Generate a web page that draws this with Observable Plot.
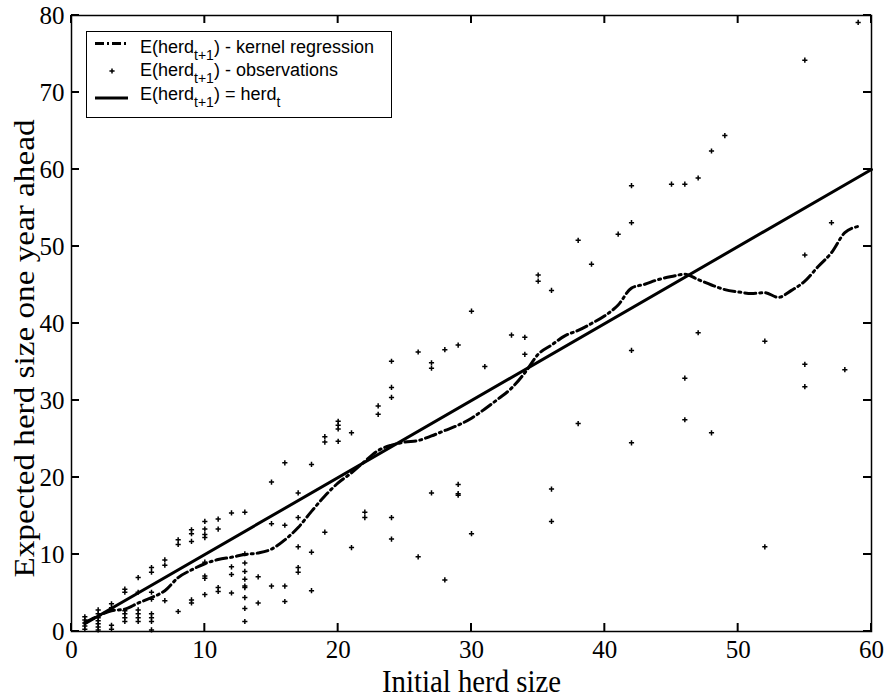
<!DOCTYPE html>
<html><head><meta charset="utf-8">
<script src="https://cdn.jsdelivr.net/npm/d3@7"></script>
<script src="https://cdn.jsdelivr.net/npm/@observablehq/plot@0.6"></script>
<style>
body{margin:0;background:#fff;}
#wrap{position:relative;width:889px;height:698px;}
#legend{position:absolute;left:86px;top:31px;}
#legend text{font-family:"Liberation Sans",Arial,sans-serif;font-size:18px;fill:#000;}
</style></head><body>
<div id="wrap"></div>
<script>
const xTicks = [0, 10, 20, 30, 40, 50, 60];
const yTicks = [0, 10, 20, 30, 40, 50, 60, 70, 80];

// observations: initial herd size (x) and herd size one year later (y)
const obsX = [
  1,1,1,1,1,
  2,2,2,2,2,2,2,
  3,3,3,3,
  4,4,4,4,4,4,
  5,5,5,5,5,5,
  6,6,6,6,6,6,6,6,
  7,7,7,
  8,8,8,
  9,9,9,9,9,
  10,10,10,10,10,10,10,10,
  11,11,11,11,
  12,12,12,12,
  13,13,13,13,13,13,13,13,13,13,
  14,14,
  15,15,15,
  16,16,16,16,
  17,17,17,17,17,
  18,18,18,
  19,19,19,
  20,20,20,20,
  21,21,
  22,22,
  23,23,
  24,24,24,24,24,
  26,26,
  27,27,27,
  28,28,
  29,29,29,29,
  30,30,
  31,
  33,
  34,34,
  35,35,
  36,36,36,
  38,38,
  39,
  41,
  42,42,42,42,
  45,
  46,46,46,
  47,47,
  48,48,
  49,
  52,52,
  55,55,55,55,
  57,
  58,
  59
];
const obsY = [
  0.3,0.7,1.1,1.5,1.9,
  0.2,0.6,1.0,1.4,1.8,2.3,2.8,
  0.3,0.8,3.1,3.6,
  1.3,1.8,2.3,2.7,5.1,5.5,
  1.3,1.8,2.3,2.8,5.1,7.0,
  0.2,1.3,1.8,2.3,4.2,5.1,7.7,8.3,
  4.0,8.6,9.3,
  2.6,11.3,11.9,
  3.7,4.1,11.7,12.7,13.2,
  4.8,6.9,7.2,9.0,12.2,12.6,13.3,14.3,
  5.2,5.7,13.3,14.6,
  5.0,7.4,8.4,15.4,
  1.3,3.0,4.4,5.7,5.9,6.8,7.8,8.9,10.1,15.5,
  3.7,7.1,
  5.9,14.0,19.4,
  3.9,5.9,13.8,21.9,
  7.7,8.3,11.0,14.8,18.0,
  5.3,10.3,21.7,
  12.9,24.6,25.3,
  24.7,26.3,26.8,27.3,
  10.9,25.8,
  14.8,15.5,
  28.2,29.3,
  12.0,14.8,30.4,31.7,35.1,
  9.7,36.3,
  18.0,34.2,34.9,
  6.7,36.6,
  17.7,17.9,19.1,37.2,
  12.7,41.6,
  34.4,
  38.5,
  36.0,38.2,
  45.5,46.3,
  14.3,18.5,44.3,
  27.0,50.8,
  47.7,
  51.6,
  24.5,36.5,53.1,57.9,
  58.1,
  27.5,32.9,58.1,
  38.8,58.9,
  25.8,62.4,
  64.4,
  11.0,37.7,
  31.8,34.7,48.9,74.2,
  53.1,
  34.0,
  79.1
];

// kernel regression estimate
const kernelX = [1,2,3,4,5,6,7,8,9,10,11,12,13,14,15,16,17,18,19,20,21,22,23,24,25,26,27,28,29,30,31,32,33,34,35,36,37,38,39,40,41,42,43,44,45,46,47,48,49,50,51,52,53,54,55,56,57,58,59];
const kernelY = [1.2,2.0,2.7,2.9,3.7,4.4,5.3,7.0,8.0,8.8,9.35,9.65,10.0,10.2,10.7,11.9,13.5,15.6,17.6,19.3,20.6,22.1,23.5,24.2,24.6,24.8,25.4,26.1,26.8,27.7,28.9,30.2,31.6,33.6,36.0,37.2,38.4,39.1,40.0,41.0,42.4,44.6,45.1,45.7,46.1,46.4,45.7,45.0,44.4,44.1,43.9,44.0,43.4,44.3,45.5,47.4,49.2,51.8,52.6];

// 45-degree line E(herd_t+1) = herd_t
const diagX = [1, 60];
const diagY = [1, 60];

const xTitle = "Initial herd size";
const yTitle = "Expected herd size one year ahead";

const obs = obsX.map((x, i) => ({x, y: obsY[i]}));
const kernel = kernelX.map((x, i) => ({x, y: kernelY[i]}));
const diag = diagX.map((x, i) => ({x, y: diagY[i]}));

const W = 889, H = 698, mL = 71, mR = 18, mT = 15, mB = 67, tick = 8;

const chart = Plot.plot({
  width: W,
  height: H,
  marginLeft: mL,
  marginRight: mR,
  marginTop: mT,
  marginBottom: mB,
  x: {domain: [0, 60]},
  y: {domain: [0, 80]},
  style: {fontFamily: "'Liberation Serif', 'Times New Roman', serif", fontSize: "25px", color: "black", background: "white"},
  marks: [
    Plot.axisX({ticks: xTicks, anchor: "bottom", tickSize: 0, tickPadding: 9, label: null}),
    Plot.axisY({ticks: yTicks, anchor: "left", tickSize: 0, tickPadding: 7, label: null}),
    Plot.frame({stroke: "black", strokeWidth: 1.5}),
    Plot.line(diag, {x: "x", y: "y", stroke: "black", strokeWidth: 3}),
    Plot.line(kernel, {x: "x", y: "y", stroke: "black", strokeWidth: 3, strokeDasharray: "11,4,2,4", curve: "monotone-x"}),
    Plot.dot(obs, {x: "x", y: "y", symbol: "plus", r: 1.8, stroke: "black", strokeWidth: 1.5}),
    Plot.text([xTitle], {text: d => d, frameAnchor: "bottom", dy: 60, fontSize: 32, textAnchor: "middle"}),
    Plot.text([yTitle], {text: d => d, frameAnchor: "left", dx: -47, dy: 25, rotate: -90, fontSize: 29, textAnchor: "middle"})
  ]
});
// the original figure is stretched vertically: compress titles along their length accordingly
d3.select(chart).selectAll("text").each(function() {
  if (this.textContent === xTitle) d3.select(this).attr("textLength", 179).attr("lengthAdjust", "spacingAndGlyphs");
  if (this.textContent === yTitle) d3.select(this).attr("textLength", 458).attr("lengthAdjust", "spacingAndGlyphs");
});

// inward ticks on all four sides (MATLAB style), placed with Plot's own scales
const sx = chart.scale("x"), sy = chart.scale("y");
const x0 = mL, x1 = W - mR, y0 = mT, y1 = H - mB;
const tg = d3.select(chart).append("g").attr("stroke", "black").attr("stroke-width", 2);
xTicks.forEach(v => {
  const px = sx.apply(v);
  tg.append("line").attr("x1", px).attr("x2", px).attr("y1", y1).attr("y2", y1 - tick);
  tg.append("line").attr("x1", px).attr("x2", px).attr("y1", y0).attr("y2", y0 + tick);
});
yTicks.forEach(v => {
  const py = sy.apply(v);
  tg.append("line").attr("y1", py).attr("y2", py).attr("x1", x0).attr("x2", x0 + tick);
  tg.append("line").attr("y1", py).attr("y2", py).attr("x1", x1).attr("x2", x1 - tick);
});
document.getElementById("wrap").appendChild(chart);

// legend (drawn inside the axes box, as in the original)
const legendItems = [
  {kind: "dashdot", main: "E(herd", sub: "t+1", rest: ") - kernel regression", sub2: ""},
  {kind: "dot", main: "E(herd", sub: "t+1", rest: ") - observations", sub2: ""},
  {kind: "solid", main: "E(herd", sub: "t+1", rest: ") = herd", sub2: "t"}
];
const lg = d3.select("#wrap").append("svg").attr("id", "legend").attr("width", 306).attr("height", 87);
lg.append("rect").attr("x", 0.5).attr("y", 0.5).attr("width", 305).attr("height", 86).attr("fill", "white").attr("stroke", "black");
const baselines = [22, 45, 69];
const markY = [12.5, 40, 67];
legendItems.forEach((it, i) => {
  if (it.kind === "dashdot") {
    lg.append("line").attr("x1", 9).attr("x2", 42).attr("y1", markY[i]).attr("y2", markY[i])
      .attr("stroke", "black").attr("stroke-width", 2.8).attr("stroke-dasharray", "9,3,2,3");
  } else if (it.kind === "solid") {
    lg.append("line").attr("x1", 9).attr("x2", 42).attr("y1", markY[i]).attr("y2", markY[i])
      .attr("stroke", "black").attr("stroke-width", 3);
  } else {
    lg.append("path").attr("transform", `translate(26,${markY[i]})`).attr("d", d3.symbol(d3.symbolPlus, 10.2)())
      .attr("fill", "none").attr("stroke", "black").attr("stroke-width", 1.5);
  }
  const t = lg.append("text").attr("x", 54).attr("y", baselines[i]);
  t.append("tspan").text(it.main);
  t.append("tspan").attr("dy", 7).attr("font-size", 14).text(it.sub);
  t.append("tspan").attr("dy", -7).text(it.rest);
  if (it.sub2) t.append("tspan").attr("dy", 7).attr("font-size", 14).text(it.sub2);
});
</script>
</body></html>
